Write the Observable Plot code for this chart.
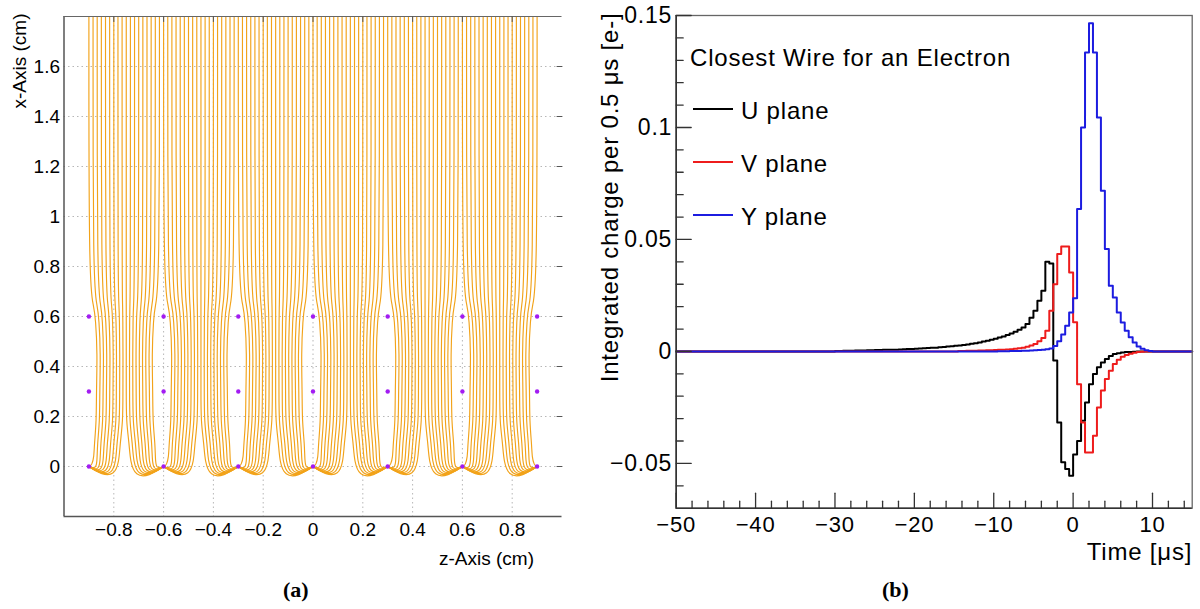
<!DOCTYPE html>
<html><head><meta charset="utf-8">
<script src="https://cdn.jsdelivr.net/npm/d3@7"></script>
<script src="https://cdn.jsdelivr.net/npm/@observablehq/plot@0.6"></script>
<style>
body{margin:0;background:#fff;width:1200px;height:609px;overflow:hidden;position:relative;font-family:"Liberation Sans",Arial,sans-serif;}
#a{position:absolute;left:0;top:0}
#b{position:absolute;left:580px;top:0}
.cap{position:absolute;top:577px;font-family:"Liberation Serif","Times New Roman",serif;font-weight:bold;font-size:22px;color:#000}
#legend{position:absolute;left:690px;top:0;font-family:"Liberation Sans",Arial,sans-serif;font-size:24px;letter-spacing:0.8px;color:#000}
#legend div{position:absolute;white-space:nowrap}
#legend .sw{position:absolute;width:40px;height:0;border-top:2px solid}
</style></head><body>
<div id="a"></div><div id="b"></div>
<div id="legend"></div>
<div class="cap" style="left:283px">(a)</div>
<div class="cap" style="left:882px">(b)</div>
<script>
// ---------- panel (a): field lines ----------
const wireZ = [-0.9, -0.6, -0.3, 0, 0.3, 0.6, 0.9];
const wirePlaneX = [0, 0.3, 0.6];
const zTicks = [-0.8, -0.6, -0.4, -0.2, 0, 0.2, 0.4, 0.6, 0.8];
const xTicks = [0, 0.2, 0.4, 0.6, 0.8, 1, 1.2, 1.4, 1.6];
const zDomain = [-1, 1];
const xDomain = [-0.2, 1.8];
// one half-cell of drift lines, [z offset from the collecting wire, x]
const lineTemplates = [
  [[0,1.8],[0,0.72],[0.019,0.645],[0.027,0.59],[0.034,0.45],[0.030,0.3],[0.030,0.18],[0.022,0.09],[0.020,0.035],[0.012,0.008],[0.005,0.002],[0,0]],
  [[0.0167,1.8],[0.0167,0.72],[0.0335,0.645],[0.0407,0.59],[0.0469,0.45],[0.0434,0.3],[0.0434,0.18],[0.034,0.09],[0.033,0.02],[0.0279,-0.005],[0.0143,-0.005],[0,0]],
  [[0.0333,1.8],[0.0333,0.72],[0.048,0.645],[0.0543,0.59],[0.0598,0.45],[0.0566,0.3],[0.0566,0.18],[0.047,0.09],[0.0456,0.02],[0.0385,-0.010],[0.0197,-0.010],[0,0]],
  [[0.05,1.8],[0.05,0.72],[0.0626,0.645],[0.068,0.59],[0.0727,0.45],[0.070,0.3],[0.070,0.18],[0.060,0.09],[0.0582,0.02],[0.0492,-0.014],[0.0252,-0.014],[0,0]],
  [[0.0667,1.8],[0.0667,0.72],[0.0772,0.645],[0.0817,0.59],[0.0856,0.45],[0.0834,0.3],[0.0834,0.18],[0.073,0.09],[0.0708,0.02],[0.0599,-0.018],[0.0307,-0.018],[0,0]],
  [[0.0833,1.8],[0.0833,0.72],[0.0917,0.645],[0.0953,0.59],[0.0984,0.45],[0.0966,0.3],[0.0966,0.18],[0.086,0.09],[0.0834,0.02],[0.0705,-0.022],[0.0361,-0.022],[0,0]],
  [[0.1,1.8],[0.1,0.72],[0.1063,0.645],[0.109,0.59],[0.1113,0.45],[0.110,0.3],[0.110,0.18],[0.099,0.09],[0.096,0.02],[0.0812,-0.026],[0.0416,-0.026],[0,0]],
  [[0.1167,1.8],[0.1167,0.72],[0.1209,0.645],[0.1227,0.59],[0.1242,0.45],[0.1234,0.3],[0.1234,0.18],[0.112,0.09],[0.1086,0.02],[0.0918,-0.030],[0.047,-0.030],[0,0]],
  [[0.1333,1.8],[0.1333,0.72],[0.1354,0.645],[0.1363,0.59],[0.1371,0.45],[0.1366,0.3],[0.1366,0.18],[0.125,0.09],[0.1213,0.02],[0.1025,-0.034],[0.0525,-0.034],[0,0]],
  [[0.15,1.8],[0.15,0.72],[0.15,0.645],[0.15,0.59],[0.15,0.45],[0.15,0.3],[0.15,0.18],[0.138,0.09],[0.1339,0.02],[0.1132,-0.039],[0.058,-0.039],[0,0]]
];

// ---------- panel (b): induced charge histograms ----------
const planes = ["U plane", "V plane", "Y plane"];
const planeColors = ["#000000", "#ee1c1c", "#1c1ce0"];
const binWidth = 0.5;
const timeDomain = [-50, 15];
const chargeDomain = [-0.07, 0.15];
const timeMajor = [-50, -40, -30, -20, -10, 0, 10];
const timeMinor = [-48,-46,-44,-42,-38,-36,-34,-32,-28,-26,-24,-22,-18,-16,-14,-12,-8,-6,-4,-2,2,4,6,8,12,14];
const chargeMajor = [-0.05, 0, 0.05, 0.1, 0.15];
const chargeMinor = [-0.06,-0.04,-0.03,-0.02,-0.01,0.01,0.02,0.03,0.04,0.06,0.07,0.08,0.09,0.11,0.12,0.13,0.14];
const uStart = -30;
const uValues = [
  0.0002,0.0002,0.0003,0.0003,0.0003,0.0004,0.0004,0.0004,0.0005,0.0005,
  0.0006,0.0006,0.0007,0.0007,0.0008,0.0008,0.0009,0.0010,0.0011,0.0011,
  0.0012,0.0013,0.0014,0.0015,0.0016,0.0017,0.0019,0.0020,0.0022,0.0023,
  0.0025,0.0027,0.0029,0.0031,0.0034,0.0037,0.0040,0.0044,0.0048,0.0052,
  0.0057,0.0062,0.0067,0.0073,0.0080,0.0088,0.0097,0.0107,0.0122,0.0150,
  0.0182,0.0226,0.0271,0.0400,0.0393,-0.0040,-0.0317,-0.0495,-0.0525,-0.0555,
  -0.0460,-0.0400,-0.0310,-0.0228,-0.0146,-0.0101,-0.0071,-0.0049,-0.0034,-0.0020,
  -0.0012,-0.0008,-0.0005,-0.0003,-0.0002,-0.0001
];
const vStart = -14.5;
const vValues = [
  0.0002,0.0002,0.0003,0.0003,0.0003,0.0004,0.0004,0.0005,0.0005,0.0006,
  0.0007,0.0008,0.0009,0.0010,0.0012,0.0014,0.0017,0.0021,0.0026,0.0033,
  0.0045,0.0060,0.0092,0.0182,0.0300,0.0435,0.0469,0.0469,0.0353,0.0130,
  -0.0146,-0.0317,-0.0451,-0.0451,-0.0376,-0.0250,-0.0175,-0.0123,-0.0086,-0.0056,
  -0.0037,-0.0024,-0.0016,-0.0010,-0.0006,-0.0003,-0.0001
];
const yStart = -9.5;
const yValues = [
  0.0001,0.0001,0.0001,0.0002,0.0002,0.0002,0.0003,0.0003,0.0004,0.0005,
  0.0006,0.0008,0.0010,0.0013,0.0024,0.0045,0.0076,0.0115,0.0174,0.0237,
  0.0636,0.1000,0.1335,0.1465,0.1335,0.1045,0.0717,0.0457,0.0293,0.0241,
  0.0174,0.0129,0.0092,0.0063,0.0040,0.0022,0.0012,0.0005,0.0002
];

const fmt = d => (d < 0 ? "\u2212" : "") + String(Math.abs(d));

// ---------- build panel (a) ----------
const lines = [];
wireZ.forEach((w, i) => {
  lineTemplates.forEach((pts, j) => {
    const last = wireZ.length - 1;
    if (i < last && j <= 8) pts.forEach(([dz, x]) => lines.push({id: `r${i}-${j}`, z: w + dz, x}));
    if (i > 0 && (j >= 1 || i === last)) pts.forEach(([dz, x]) => lines.push({id: `l${i}-${j}`, z: w - dz, x}));
  });
});
const wires = wireZ.flatMap(z => wirePlaneX.map(x => ({z, x})));
const tickShape = {draw(ctx, l) { ctx.moveTo(0, 0); ctx.lineTo(0, -l); }};

const plotA = Plot.plot({
  width: 580, height: 570,
  marginLeft: 63.5, marginRight: 18.5, marginTop: 16, marginBottom: 54,
  x: {domain: zDomain},
  y: {domain: xDomain},
  style: {fontFamily: "Liberation Sans, Arial, sans-serif", fontSize: "19px", color: "#000", background: "#fff"},
  marks: [
    Plot.gridX({ticks: zTicks, stroke: "#9a9a9a", strokeOpacity: 0.9, strokeWidth: 0.8, strokeDasharray: "1.5,3"}),
    Plot.gridY({ticks: xTicks, stroke: "#9a9a9a", strokeOpacity: 0.9, strokeWidth: 0.8, strokeDasharray: "1.5,3"}),
    Plot.line(lines, {x: "z", y: "x", z: "id", stroke: "#f2a31a", strokeWidth: 1.15, curve: "basis"}),
    Plot.dot(wires, {x: "z", y: "x", r: 2.2, fill: "#a21cf2", stroke: "none"}),
    Plot.ruleX([zDomain[0]], {stroke: "#555", strokeWidth: 1.5}),
    Plot.ruleY([xDomain[0]], {stroke: "#555", strokeWidth: 1.5}),
    Plot.ruleY([xDomain[1]], {stroke: "#666", strokeWidth: 1.2}),
    Plot.vector(zTicks, {x: d => d, frameAnchor: "top", length: 5, rotate: 180, anchor: "start", shape: tickShape, stroke: "#555", strokeWidth: 1}),
    Plot.vector(xTicks, {y: d => d, frameAnchor: "right", length: 5, rotate: -90, anchor: "start", shape: tickShape, stroke: "#555", strokeWidth: 1}),
    Plot.axisX({ticks: zTicks, tickSize: 0, tickPadding: 6, label: null, fontSize: 19, tickFormat: fmt}),
    Plot.axisY({ticks: xTicks, tickSize: 0, tickPadding: 4, label: null, fontSize: 19, tickFormat: fmt}),
    Plot.text(["x-Axis (cm)"], {text: d => d, frameAnchor: "top-left", rotate: -90, textAnchor: "end", lineAnchor: "bottom", dx: -38, dy: -3, fontSize: 19}),
    Plot.text(["z-Axis (cm)"], {text: d => d, frameAnchor: "bottom-right", textAnchor: "end", lineAnchor: "bottom", dx: -28, dy: 48, fontSize: 19})
  ]
});
document.getElementById("a").append(plotA);

// ---------- build panel (b) ----------
function histogram(start, values, plane) {
  const n = Math.round((timeDomain[1] - timeDomain[0]) / binWidth);
  const pts = [];
  for (let i = 0; i < n; ++i) {
    const t = timeDomain[0] + i * binWidth;
    const k = Math.round((t - start) / binWidth);
    pts.push({plane, t, v: k >= 0 && k < values.length ? values[k] : 0});
  }
  pts.push({plane, t: timeDomain[1], v: pts[pts.length - 1].v});
  return pts;
}
const hists = [
  ...histogram(uStart, uValues, planes[0]),
  ...histogram(vStart, vValues, planes[1]),
  ...histogram(yStart, yValues, planes[2])
];

const plotB = Plot.plot({
  width: 620, height: 570,
  marginLeft: 95.7, marginRight: 8.3, marginTop: 15, marginBottom: 62.3,
  x: {domain: timeDomain},
  y: {domain: chargeDomain},
  color: {domain: planes, range: planeColors},
  style: {fontFamily: "Liberation Sans, Arial, sans-serif", fontSize: "24px", letterSpacing: "0.8px", color: "#000", background: "#fff"},
  marks: [
    Plot.line(hists, {x: "t", y: "v", z: "plane", stroke: "plane", strokeWidth: 2, curve: "step-after"}),
    Plot.frame({stroke: "#666", strokeWidth: 1.3}),
    Plot.ruleX([timeDomain[0]], {stroke: "#333", strokeWidth: 1.6}),
    Plot.ruleY([chargeDomain[0]], {stroke: "#333", strokeWidth: 1.6}),
    Plot.vector(timeMajor, {x: d => d, frameAnchor: "bottom", length: 15, rotate: 0, anchor: "start", shape: tickShape, stroke: "#333", strokeWidth: 1.3}),
    Plot.vector(timeMinor, {x: d => d, frameAnchor: "bottom", length: 7, rotate: 0, anchor: "start", shape: tickShape, stroke: "#333", strokeWidth: 1.3}),
    Plot.vector(chargeMajor, {y: d => d, frameAnchor: "left", length: 15, rotate: 90, anchor: "start", shape: tickShape, stroke: "#333", strokeWidth: 1.3}),
    Plot.vector(chargeMinor, {y: d => d, frameAnchor: "left", length: 7, rotate: 90, anchor: "start", shape: tickShape, stroke: "#333", strokeWidth: 1.3}),
    Plot.axisX({ticks: timeMajor, tickSize: 0, tickPadding: 8, label: null, fontSize: 22, tickFormat: fmt}),
    Plot.axisY({ticks: chargeMajor, tickSize: 0, tickPadding: 4, label: null, fontSize: 23, tickFormat: fmt}),
    Plot.text(["Integrated charge per 0.5 μs [e-]"], {text: d => d, frameAnchor: "top-left", rotate: -90, textAnchor: "end", lineAnchor: "bottom", dx: -58, dy: -3, fontSize: 24}),
    Plot.text(["Time [μs]"], {text: d => d, frameAnchor: "bottom-right", textAnchor: "end", lineAnchor: "bottom", dx: 0, dy: 52, fontSize: 24})
  ]
});
document.getElementById("b").append(plotB);

// legend (HTML overlay)
const legend = document.getElementById("legend");
const title = document.createElement("div");
title.textContent = "Closest Wire for an Electron";
title.style.top = "44px"; title.style.left = "0px";
legend.append(title);
planes.forEach((p, i) => {
  const sw = document.createElement("div");
  sw.className = "sw";
  sw.style.left = "3px"; sw.style.top = (108 + i * 53) + "px"; sw.style.borderTopColor = planeColors[i];
  legend.append(sw);
  const t = document.createElement("div");
  t.textContent = p;
  t.style.left = "51px"; t.style.top = (97 + i * 53) + "px";
  legend.append(t);
});
</script></body></html>
